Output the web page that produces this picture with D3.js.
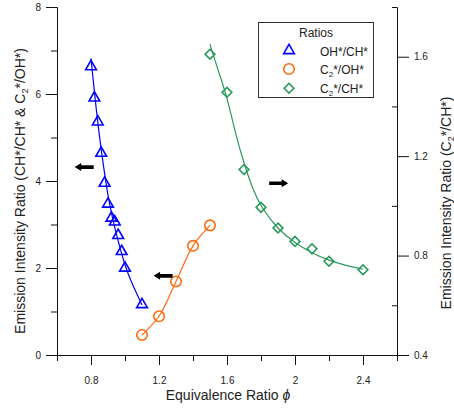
<!DOCTYPE html>
<html>
<head>
<meta charset="utf-8">
<script src="https://cdn.jsdelivr.net/npm/d3@7"></script>
<style>
  body { margin: 0; background: #fff; }
  svg { font-family: "Liberation Sans", Arial, sans-serif; }
</style>
</head>
<body>
<svg id="chart" width="454" height="409"></svg>
<script>
// OH*/CH* (left axis)
var ohPhi = [0.8, 0.82, 0.84, 0.86, 0.88, 0.9, 0.92, 0.94, 0.96, 0.98, 1.0, 1.1];
var ohVal = [6.63, 5.91, 5.36, 4.64, 3.95, 3.47, 3.15, 3.06, 2.75, 2.38, 2.0, 1.16];
var ohFitPhi = [0.8, 0.825, 0.85, 0.875, 0.9, 0.925, 0.95, 0.975, 1.0, 1.025, 1.05, 1.075, 1.1];
var ohFitVal = [6.82, 5.85, 5.0, 4.3, 3.65, 3.17, 2.77, 2.4, 2.06, 1.8, 1.57, 1.36, 1.15];

// C2*/OH* (left axis)
var c2ohPhi = [1.1, 1.2, 1.3, 1.4, 1.5];
var c2ohVal = [0.46, 0.89, 1.69, 2.51, 2.98];

// C2*/CH* (right axis)
var c2chPhi = [1.5, 1.6, 1.7, 1.8, 1.9, 2.0, 2.1, 2.2, 2.4];
var c2chVal = [1.61, 1.457, 1.146, 0.994, 0.911, 0.857, 0.827, 0.777, 0.743];
var c2chFitPhi = [1.5, 1.55, 1.6, 1.65, 1.7, 1.75, 1.8, 1.9, 2.0, 2.1, 2.2, 2.3, 2.4];
var c2chFitVal = [1.65, 1.54, 1.44, 1.29, 1.17, 1.07, 0.995, 0.905, 0.85, 0.81, 0.78, 0.76, 0.745];

// arrows: which axis a series belongs to (data coords on left axis)
var arrowPhi = [0.76, 1.224, 1.904];
var arrowVal = [4.32, 1.82, 3.95];
var arrowDir = [-1, -1, 1];

// ticks
var xTicks = [0.8, 1.2, 1.6, 2.0, 2.4];
var xTickLabels = ["0.8", "1.2", "1.6", "2", "2.4"];
var xMinor = [0.6, 1.0, 1.4, 1.8, 2.2, 2.6];
var yLTicks = [0, 2, 4, 6, 8];
var yLTickLabels = ["0", "2", "4", "6", "8"];
var yLMinor = [1, 3, 5, 7];
var yRTicks = [0.4, 0.8, 1.2, 1.6];
var yRTickLabels = ["0.4", "0.8", "1.2", "1.6"];
var yRMinor = [0.6, 1.0, 1.4, 1.8];

var legendNames = ["OH*/CH*", "C2*/OH*", "C2*/CH*"];
var colors = ["#0000ff", "#ff6a10", "#2a9a5c"];

var svg = d3.select("#chart");
var x = d3.scaleLinear().domain([0.6, 2.6]).range([57, 397]);
var yL = d3.scaleLinear().domain([0, 8]).range([355, 7]);
var yR = d3.scaleLinear().domain([0.4, 1.8]).range([355, 7]);

function zip(a, b) { return a.map(function(d, i) { return [d, b[i]]; }); }

// Axes
var axes = svg.append("g").attr("font-size", 12);
axes.append("g").attr("transform", "translate(0,355)")
  .call(d3.axisBottom(x).tickValues(xTicks).tickSize(10).tickSizeOuter(0).tickPadding(12)
    .tickFormat(function(d, i) { return xTickLabels[i]; }));
axes.append("g").attr("transform", "translate(0,355)")
  .call(d3.axisBottom(x).tickValues(xMinor).tickSize(6).tickSizeOuter(0).tickFormat(""));
axes.append("g").attr("transform", "translate(57,0)")
  .call(d3.axisLeft(yL).tickValues(yLTicks).tickSize(11).tickSizeOuter(0).tickPadding(5)
    .tickFormat(function(d, i) { return yLTickLabels[i]; }));
axes.append("g").attr("transform", "translate(57,0)")
  .call(d3.axisLeft(yL).tickValues(yLMinor).tickSize(6).tickSizeOuter(0).tickFormat(""));
axes.append("g").attr("transform", "translate(397,0)")
  .call(d3.axisRight(yR).tickValues(yRTicks).tickSize(12).tickSizeOuter(0).tickPadding(5)
    .tickFormat(function(d, i) { return yRTickLabels[i]; }));
axes.append("g").attr("transform", "translate(397,0)")
  .call(d3.axisRight(yR).tickValues(yRMinor).tickSize(-5).tickSizeOuter(0).tickFormat(""));
axes.selectAll("text").attr("font-family", null).attr("fill", "#222");
axes.selectAll(".tick line, .domain").attr("stroke", "#111");

// Axis titles
var xt = svg.append("text").attr("x", 228).attr("y", 400).attr("text-anchor", "middle")
  .attr("font-size", 14).attr("fill", "#222");
xt.append("tspan").text("Equivalence Ratio ");
xt.append("tspan").attr("font-style", "italic").text("\u03d5");

function subTitle(t, parts) {
  parts.forEach(function(p) {
    if (p.sub) t.append("tspan").attr("font-size", 9).attr("dy", 3).text(p.s);
    else t.append("tspan").attr("dy", p.up ? -3 : 0).text(p.s);
  });
}
var lt = svg.append("text").attr("transform", "translate(25,191) rotate(-90)")
  .attr("text-anchor", "middle").attr("font-size", 14).attr("fill", "#222");
subTitle(lt, [{s: "Emission Intensity Ratio (CH*/CH* & C"}, {s: "2", sub: true}, {s: "*/OH*)", up: true}]);
var rt = svg.append("text").attr("transform", "translate(450.5,203) rotate(-90)")
  .attr("text-anchor", "middle").attr("font-size", 14).attr("fill", "#222");
subTitle(rt, [{s: "Emission Intensity Ratio (C"}, {s: "2", sub: true}, {s: "*/CH*)", up: true}]);

// Lines
var plot = svg.append("g");
plot.append("path").datum(zip(ohFitPhi, ohFitVal))
  .attr("d", d3.line().x(function(d) { return x(d[0]); }).y(function(d) { return yL(d[1]); }).curve(d3.curveBasis))
  .attr("fill", "none").attr("stroke", colors[0]).attr("stroke-width", 1.2);
plot.append("path").datum(zip(c2ohPhi, c2ohVal))
  .attr("d", d3.line().x(function(d) { return x(d[0]); }).y(function(d) { return yL(d[1]); }).curve(d3.curveCatmullRom))
  .attr("fill", "none").attr("stroke", colors[1]).attr("stroke-width", 1.2);
plot.append("path").datum(zip(c2chFitPhi, c2chFitVal))
  .attr("d", d3.line().x(function(d) { return x(d[0]); }).y(function(d) { return yR(d[1]); }).curve(d3.curveBasis))
  .attr("fill", "none").attr("stroke", colors[2]).attr("stroke-width", 1.2);

// Markers
var tri = d3.symbol().type(d3.symbolTriangle).size(50);
var circ = d3.symbol().type(d3.symbolCircle).size(86);
var sq = d3.symbol().type(d3.symbolSquare).size(48);
function markers(data, ys, sym, color, rot) {
  plot.append("g").selectAll("path").data(data).join("path")
    .attr("transform", function(d) { return "translate(" + x(d[0]) + "," + ys(d[1]) + ")" + (rot ? " rotate(45)" : ""); })
    .attr("d", sym).attr("fill", "none").attr("stroke", color).attr("stroke-width", 1.6);
}
markers(zip(ohPhi, ohVal), yL, tri, colors[0]);
markers(zip(c2ohPhi, c2ohVal), yL, circ, colors[1]);
markers(zip(c2chPhi, c2chVal), yR, sq, colors[2], true);

// Arrows
svg.append("g").selectAll("path").data(arrowPhi).join("path")
  .attr("transform", function(d, i) {
    return "translate(" + x(d) + "," + yL(arrowVal[i]) + ") scale(" + arrowDir[i] + ",1)";
  })
  .attr("d", "M-9.5,-1.8 L3,-1.8 L3,-4 L9.5,0 L3,4 L3,1.8 L-9.5,1.8 Z")
  .attr("fill", "#000");

// Legend
var leg = svg.append("g").attr("font-size", 12).attr("fill", "#222");
leg.append("rect").attr("x", 258.5).attr("y", 22.5).attr("width", 115).attr("height", 75)
  .attr("fill", "#fff").attr("stroke", "#333");
leg.append("text").attr("x", 316).attr("y", 37).attr("text-anchor", "middle").text("Ratios");
var legY = [50.5, 69, 88.3];
var legText = svg.append("g").attr("font-size", 12).attr("fill", "#222");
legText.append("text").attr("x", 320).attr("y", 55.5).text(legendNames[0]);
var t1 = legText.append("text").attr("x", 320).attr("y", 74);
t1.append("tspan").text("C");
t1.append("tspan").attr("font-size", 8).attr("dy", 3).text("2");
t1.append("tspan").attr("dy", -3).text("*/OH*");
var t2 = legText.append("text").attr("x", 320).attr("y", 93);
t2.append("tspan").text("C");
t2.append("tspan").attr("font-size", 8).attr("dy", 3).text("2");
t2.append("tspan").attr("dy", -3).text("*/CH*");
[tri, circ, sq].forEach(function(sym, i) {
  leg.append("path").attr("d", sym)
    .attr("transform", "translate(289," + legY[i] + ")" + (i === 2 ? " rotate(45)" : ""))
    .attr("fill", "none").attr("stroke", colors[i]).attr("stroke-width", 1.6);
});
</script>
</body>
</html>
